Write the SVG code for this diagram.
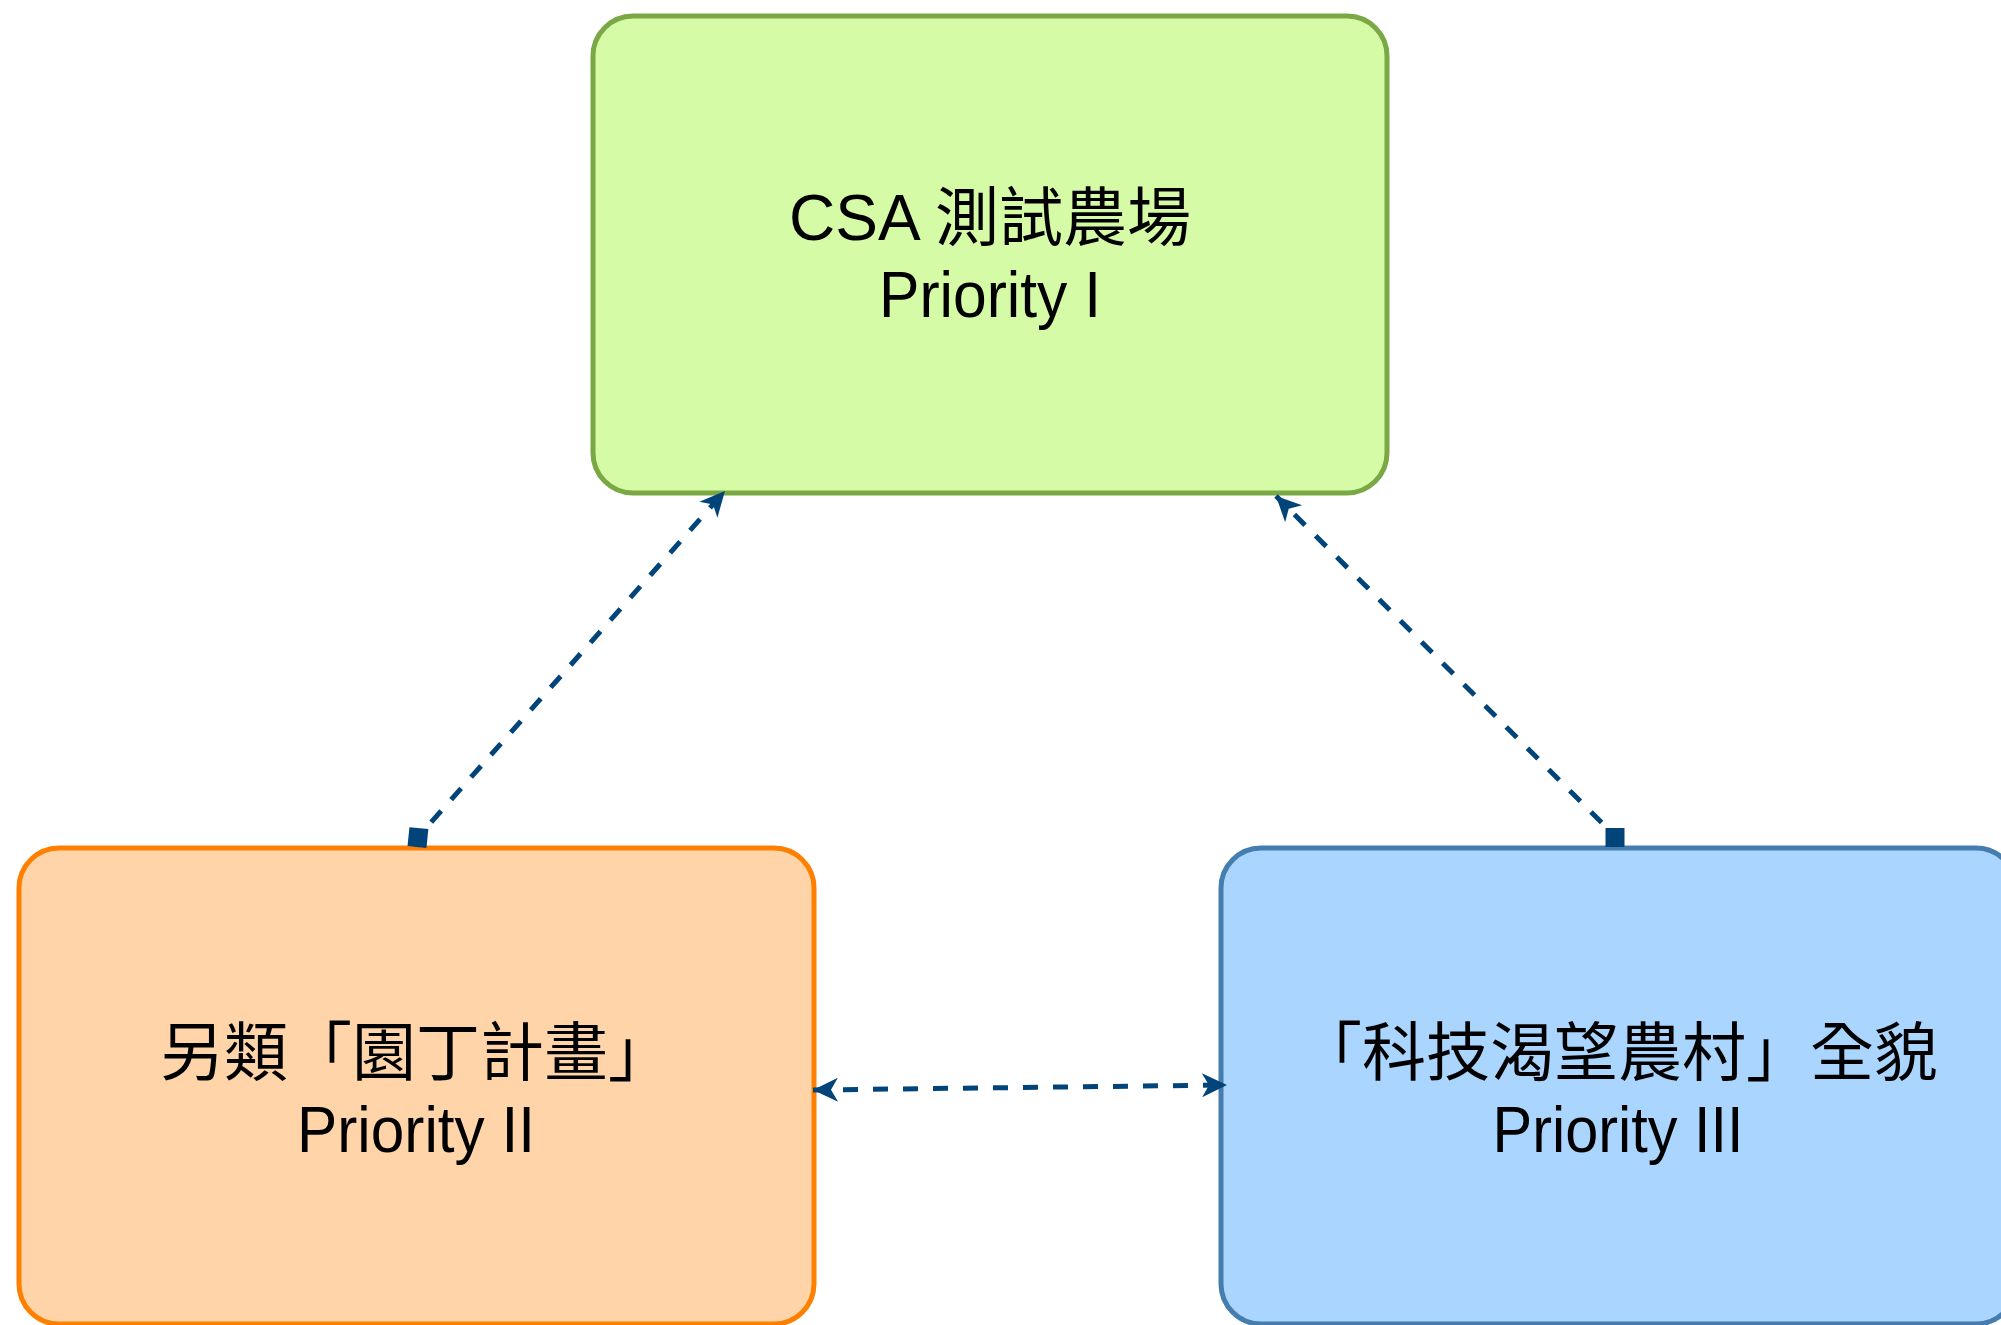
<svg xmlns="http://www.w3.org/2000/svg" width="2001" height="1325" viewBox="0 0 2001 1325">
  <style>
    .lbl { font-family: "Liberation Sans", "Noto Sans CJK TC", sans-serif; font-size: 64px; fill: #000000; text-anchor: middle; }
    .conn { fill: none; stroke: #004479; stroke-width: 5; stroke-dasharray: 15 15; }
    .node { stroke-width: 5; }
  </style>
  <defs>
    <marker id="arrow" markerUnits="userSpaceOnUse" markerWidth="30" markerHeight="30" viewBox="-27 -15 30 30" refX="0" refY="0" orient="auto-start-reverse">
      <path d="M0,0 L-25,-12 L-18,0 L-25,12 Z" fill="#004479"/>
    </marker>
    <marker id="box" markerUnits="userSpaceOnUse" markerWidth="24" markerHeight="24" viewBox="-2 -12 24 24" refX="0" refY="0" orient="auto">
      <rect x="0" y="-9.5" width="19" height="19" fill="#004479"/>
    </marker>
  </defs>
  <rect width="2001" height="1325" fill="#ffffff"/>

  <g id="node-csa">
    <rect class="node" x="593" y="16" width="794" height="477" rx="40" ry="40" fill="#D5FBA6" stroke="#7AA845"/>
    <text class="lbl" x="990" y="240">CSA 測試農場</text>
    <text class="lbl" x="990" y="317" textLength="222" lengthAdjust="spacingAndGlyphs">Priority I</text>
  </g>

  <g id="node-garden">
    <rect class="node" x="19" y="848" width="795" height="476" rx="40" ry="40" fill="#FED4A8" stroke="#FF8000"/>
    <text class="lbl" x="416" y="1075">另類「園丁計畫」</text>
    <text class="lbl" x="416" y="1152" textLength="238" lengthAdjust="spacingAndGlyphs">Priority II</text>
  </g>

  <g id="node-village">
    <rect class="node" x="1221" y="848" width="795" height="476" rx="40" ry="40" fill="#AAD5FE" stroke="#457DAE"/>
    <text class="lbl" x="1618" y="1075">「科技渴望農村」全貌</text>
    <text class="lbl" x="1618" y="1152" textLength="251" lengthAdjust="spacingAndGlyphs">Priority III</text>
  </g>

  <g id="connectors">
    <path class="conn" d="M 417 847 L 418 837 L 725 491" marker-start="url(#box)" marker-end="url(#arrow)"/>
    <path class="conn" d="M 1615 847 L 1615 836 L 1276 496" marker-start="url(#box)" marker-end="url(#arrow)"/>
    <path class="conn" d="M 813 1090 L 1227 1085" marker-start="url(#arrow)" marker-end="url(#arrow)"/>
  </g>
</svg>
